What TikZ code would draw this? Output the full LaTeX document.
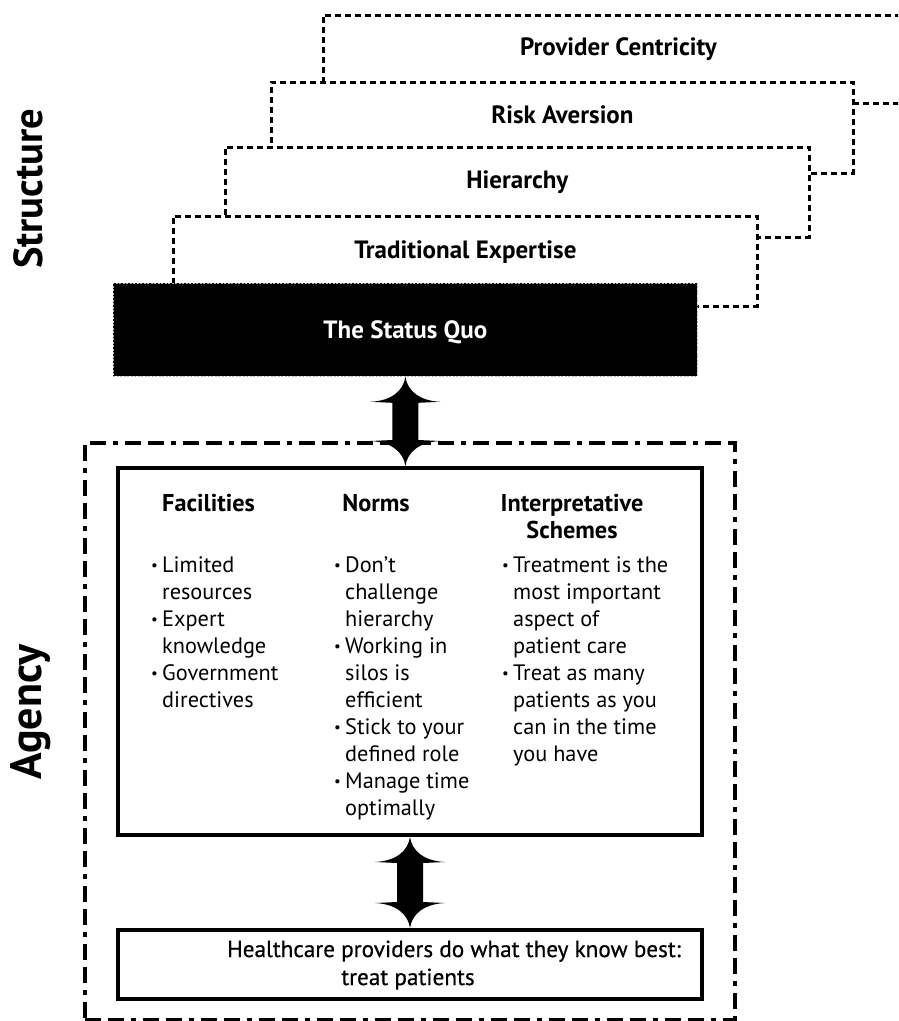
\documentclass[tikz,border=0pt]{standalone}
\usepackage{fontspec}
\setmainfont{PT Sans}
\newfontfamily\medfont[FakeBold=0.6]{PT Sans}
\usetikzlibrary{calc}
\newcommand\bul{\makebox[10pt][l]{\hspace*{-1pt}\raisebox{2pt}{\fontsize{15}{15}\selectfont\textbullet}}}
\newcommand\ind{\hspace*{10pt}}
\newcommand\fatarrow[2]{%
\fill[black] let \p1=(#1), \p2=(#2) in
 (\x1,\y1) .. controls (\x1-2,\y1-14) and (\x1-14,\y1-24) .. (\x1-35,\y1-25)
 -- (\x1-13,\y1-26) -- (\x1-13,\y2+26) -- (\x1-35,\y2+25)
 .. controls (\x1-14,\y2+24) and (\x1-2,\y2+14) .. (\x1,\y2)
 .. controls (\x1+2,\y2+14) and (\x1+14,\y2+24) .. (\x1+35,\y2+25)
 -- (\x1+13,\y2+26) -- (\x1+13,\y1-26) -- (\x1+35,\y1-25)
 .. controls (\x1+14,\y1-24) and (\x1+2,\y1-14) .. (\x1,\y1) -- cycle;}
\begin{document}
\begin{tikzpicture}[x=1pt,y=-1pt,
  stackbox/.style={draw=black, fill=white, line width=2.8pt, dash pattern=on 6pt off 4pt,
     inner sep=0pt, anchor=north west},
  sqbox/.style={fill=black, draw=gray!55, line width=0.8pt, dash pattern=on 2pt off 1.5pt,
     inner sep=0pt, anchor=north west},
  agencybox/.style={draw=black, line width=4.2pt,
     dash pattern=on 16pt off 7pt on 16pt off 7pt on 5pt off 7pt, inner sep=0pt, anchor=north west},
  solidbox/.style={draw=black, fill=white, line width=4pt, inner sep=0pt, anchor=north west},
  title/.style={font=\bfseries\fontsize{25}{29}\selectfont, inner sep=0pt, anchor=base},
  heading/.style={font=\bfseries\fontsize{24.3}{27}\selectfont, inner sep=0pt, align=center},
  col/.style={font=\fontsize{22.3}{27.1}\selectfont, inner sep=0pt, align=left, anchor=base west},
  biglabel/.style={font=\bfseries\fontsize{40.5}{44}\selectfont, inner sep=0pt, rotate=90},
]
\clip (0,0) rectangle (898,1021);
\useasboundingbox (0,0) rectangle (898,1021);

% Structure stack (back to front)
\node[stackbox, minimum width=590, minimum height=88] (pc) at (322,14) {};
\node[title] (pct) at ($(pc.north)+(0,41)$) {Provider Centricity};
\node[stackbox, minimum width=582, minimum height=91] (ra) at (270,81) {};
\node[title] (rat) at ($(ra.north)+(0,42)$) {Risk Aversion};
\node[stackbox, minimum width=584, minimum height=90] (hi) at (224,146) {};
\node[title] (hit) at ($(hi.north)+(0,42)$) {Hierarchy};
\node[stackbox, minimum width=584, minimum height=90] (te) at (172,215) {};
\node[title] (tet) at ($(te.north)+(0,43)$) {Traditional Expertise};
\node[sqbox, minimum width=584, minimum height=93] (sq) at (113,283) {};
\node[title, text=white] (sqt) at ($(sq.north)+(0,55)$) {The Status Quo};

% Agency
\node[agencybox, minimum width=650, minimum height=577] (ag) at (83,441) {};
\node[solidbox, minimum width=584, minimum height=367] (inner) at (116,466) {};
\node[solidbox, minimum width=584, minimum height=69] (bot) at (116,928) {};

% headings (anchor base = baseline of the last line)
\node[heading, anchor=base west] (hfac) at (162,511) {Facilities};
\node[heading, anchor=base] (hnorm) at (376,511) {Norms};
\node[heading, anchor=base] (hint) at (572,538) {Interpretative\\Schemes};

\node[col] (cfac) at (152,707.5) {\bul Limited\\\ind resources\\\bul Expert\\\ind knowledge\\\bul Government\\\ind directives};
\node[col] (cnorm) at (335,815.9) {\bul Don’t\\\ind challenge\\\ind hierarchy\\\bul Working in\\\ind silos is\\\ind efficient\\\bul Stick to your\\\ind defined role\\\bul Manage time\\\ind optimally};
\node[col] (cint) at (503,761.7) {\bul Treatment is the\\\ind most important\\\ind aspect of\\\ind patient care\\\bul Treat as many\\\ind patients as you\\\ind can in the time\\\ind you have};

\node[font=\medfont\fontsize{23.2}{28}\selectfont, align=center, inner sep=0pt, anchor=base] (bott) at (408,985)
  {\hspace*{92pt}Healthcare providers do what they know best:\\treat patients};

% arrows
\fatarrow{sq.south}{inner.north}
\fatarrow{inner.south}{bot.north}

% side labels
\node[biglabel] (lstruct) at (28,189) {Structure};
\node[biglabel, font=\bfseries\fontsize{44}{48}\selectfont] (lagency) at (31,712) {Agency};
\end{tikzpicture}
\end{document}
